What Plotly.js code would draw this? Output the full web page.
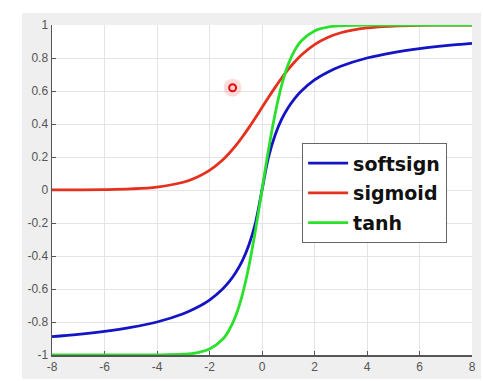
<!DOCTYPE html>
<html>
<head>
<meta charset="utf-8">
<script src="https://cdn.plot.ly/plotly-3.0.1.min.js"></script>
<style>html,body{margin:0;padding:0;background:#fff;}#chart{width:483px;height:381px;}</style>
</head>
<body>
<div id="chart"></div>
<script>
const xs = [-8,-7,-6,-5,-4,-3,-2.5,-2,-1.5,-1.25,-1,-0.75,-0.5,-0.25,0,0.25,0.5,0.75,1,1.25,1.5,2,2.5,3,4,5,6,7,8];
const softsignY = [-0.889,-0.875,-0.857,-0.833,-0.8,-0.75,-0.714,-0.667,-0.6,-0.556,-0.5,-0.429,-0.333,-0.2,0,0.2,0.333,0.429,0.5,0.556,0.6,0.667,0.714,0.75,0.8,0.833,0.857,0.875,0.889];
const sigmoidY = [0.0003,0.0009,0.0025,0.0067,0.018,0.047,0.076,0.119,0.182,0.223,0.269,0.321,0.378,0.438,0.5,0.562,0.622,0.679,0.731,0.777,0.818,0.881,0.924,0.953,0.982,0.993,0.998,0.999,1.0];
const tanhY = [-1.0,-1.0,-1.0,-0.9999,-0.9993,-0.995,-0.987,-0.964,-0.905,-0.848,-0.762,-0.635,-0.462,-0.245,0,0.245,0.462,0.635,0.762,0.848,0.905,0.964,0.987,0.995,0.9993,0.9999,1.0,1.0,1.0];
const seriesNames = ["softsign","sigmoid","tanh"];
const xTickVals = [-8,-6,-4,-2,0,2,4,6,8];
const xTickText = ["-8","-6","-4","-2","0","2","4","6","8"];
const yTickVals = [-1,-0.8,-0.6,-0.4,-0.2,0,0.2,0.4,0.6,0.8,1];
const yTickText = ["-1","-0.8","-0.6","-0.4","-0.2","0","0.2","0.4","0.6","0.8","1"];
// cursor highlight dot seen in the picture
const dotX = [-1.12];
const dotY = [0.62];

const colors = ["#1414c4","#e6301e","#2be02b"];
const ys = [softsignY, sigmoidY, tanhY];
const traces = seriesNames.map((n,i)=>({
  x: xs, y: ys[i], name: n, type: "scatter", mode: "lines",
  line: {color: colors[i], width: 2.8, shape: "spline", smoothing: 1},
  cliponaxis: false, legendgroup: n
}));
traces.push({x: dotX, y: dotY, type: "scatter", mode: "markers", showlegend: false, hoverinfo: "skip",
  marker: {size: 18, color: "rgba(255,60,60,0.18)", line: {width: 0}}});
traces.push({x: dotX, y: dotY, type: "scatter", mode: "markers", showlegend: false, hoverinfo: "skip",
  marker: {size: 7, color: "rgba(255,200,200,0.9)", line: {width: 2, color: "#e01010"}}});

const axisCommon = {
  showline: true, linecolor: "#555", linewidth: 1.5, mirror: false,
  ticks: "inside", ticklen: 4, tickwidth: 1, tickcolor: "#555",
  showgrid: true, gridcolor: "#e4e4e4", gridwidth: 1, zeroline: false,
  tickfont: {family: "Liberation Sans, Arial, sans-serif", size: 12, color: "#555"},
  layer: "below traces", fixedrange: true
};
const layout = {
  width: 483, height: 381,
  margin: {l: 52, r: 11, t: 25, b: 26, pad: 0},
  paper_bgcolor: "#ffffff", plot_bgcolor: "#ffffff",
  showlegend: true,
  xaxis: Object.assign({}, axisCommon, {range: [-8, 8], tickvals: xTickVals, ticktext: xTickText}),
  yaxis: Object.assign({}, axisCommon, {range: [-1, 1], tickvals: yTickVals, ticktext: yTickText}),
  legend: {x: 0.595, y: 0.642, xanchor: "left", yanchor: "top",
    bgcolor: "#ffffff", bordercolor: "#666", borderwidth: 1.2,
    font: {family: "DejaVu Sans, sans-serif", size: 19, color: "#111", weight: "bold"},
    tracegroupgap: 2, itemwidth: 40},
  shapes: [
    {type: "rect", xref: "paper", yref: "paper", x0: -0.0714, x1: 1.0214, y0: -0.0727, y1: 1.036,
     fillcolor: "#efefef", line: {width: 0}, layer: "below"},
    {type: "rect", xref: "paper", yref: "paper", x0: 0, x1: 1, y0: 0, y1: 1,
     fillcolor: "#ffffff", line: {width: 0}, layer: "below"}
  ]
};
Plotly.newPlot("chart", traces, layout, {staticPlot: true, displayModeBar: false});
</script>
</body>
</html>
